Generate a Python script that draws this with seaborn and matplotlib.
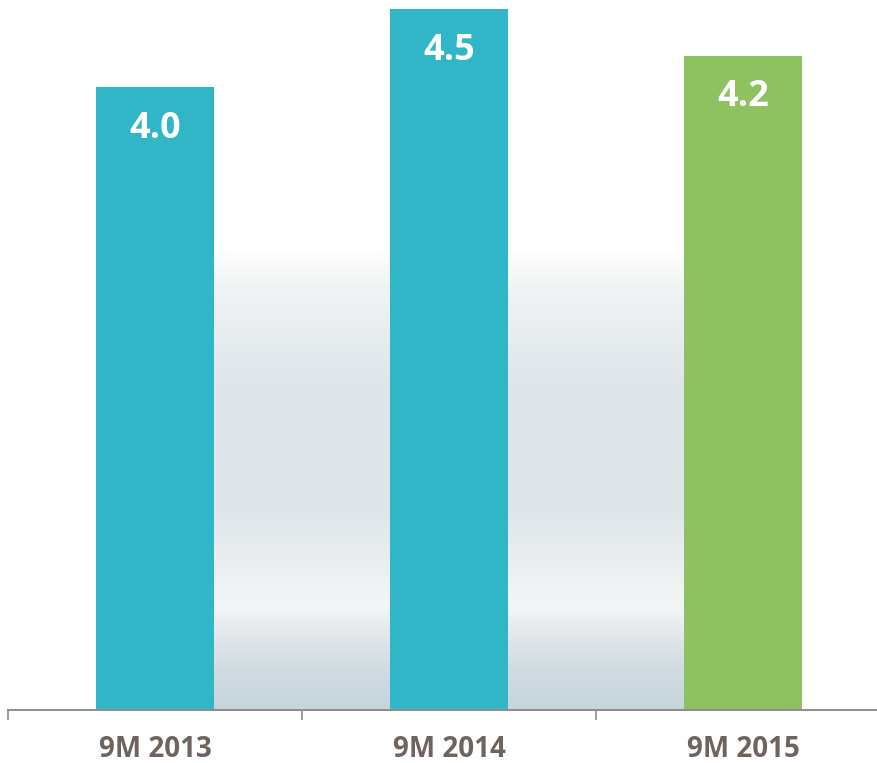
import numpy as np
import pandas as pd
import seaborn as sns
import matplotlib.pyplot as plt
from matplotlib.colors import LinearSegmentedColormap

# chart data
periods = ["9M 2013", "9M 2014", "9M 2015"]
values = [4.0, 4.5, 4.2]
bar_colors = ["#30b6c6", "#30b6c6", "#8ec160"]

df = pd.DataFrame({"Period": periods, "Value": values})

sns.set_style("white")
plt.rcParams["font.family"] = ["Open Sans", "DejaVu Sans"]

fig = plt.figure(figsize=(8.78, 7.63), dpi=100)
ax = fig.add_axes([8 / 878, 53 / 763, 882 / 878, 708.7 / 763])

sns.barplot(data=df, x="Period", y="Value", hue="Period", palette=bar_colors,
            width=0.4, saturation=1, legend=False, linewidth=0, ax=ax, zorder=3)

# soft grey band behind the bars
stops = [(0.0, "#c6d5dc"), (0.087, "#d0dce2"), (0.152, "#e0e6ea"), (0.224, "#f4f5f6"),
         (0.326, "#eaeef0"), (0.435, "#dfe6ea"), (0.717, "#e0e6ea"), (0.826, "#e8edf0"),
         (0.924, "#f1f4f5"), (1.0, "#ffffff")]
band = LinearSegmentedColormap.from_list("band", stops)
grad = np.linspace(1, 0, 256).reshape(-1, 1)
ax.imshow(grad, cmap=band, aspect="auto", extent=[0.2, 1.8, 0, 2.95], zorder=1)

ax.set_xlim(-0.5, 2.5)
ax.set_ylim(0, 4.55)

# value labels inside the bars
for i, v in enumerate(values):
    ax.annotate(f"{v:.1f}", (i, v), xytext=(0, -30), textcoords="offset points",
                ha="center", va="center", color="white", fontsize=26, fontweight="bold", zorder=5)

for s in ["left", "top", "right"]:
    ax.spines[s].set_visible(False)
ax.spines["bottom"].set_color("#8c8c8c")
ax.spines["bottom"].set_linewidth(1.4)
ax.spines["bottom"].set_zorder(4)

ax.set_yticks([])
ax.set_xlabel("")
ax.set_ylabel("")
ax.set_xticks(range(len(periods)))
ax.set_xticklabels(periods, fontsize=20, fontweight="bold", color="#6e635d")
ax.set_xticks([-0.5, 0.5, 1.5, 2.5], minor=True)
ax.tick_params(axis="x", which="major", length=0, pad=18)
ax.tick_params(axis="x", which="minor", length=7.5, width=1.2, color="#8c8c8c", direction="out", bottom=True)

fig.savefig("out.png", dpi=100)
